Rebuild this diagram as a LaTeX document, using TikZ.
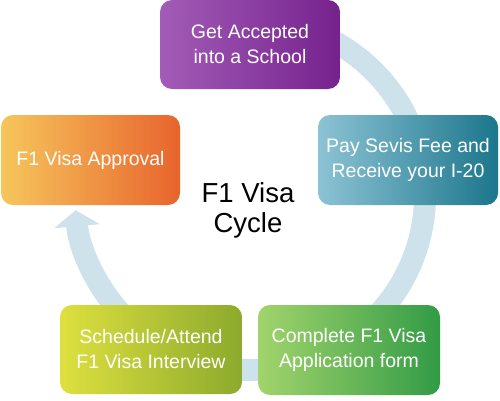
\documentclass[tikz,border=0pt]{standalone}
\usepackage{fontspec}
\setmainfont{Liberation Sans}
\usetikzlibrary{arrows.meta}
\definecolor{bandc}{RGB}{205,226,235}
\definecolor{purL}{RGB}{162,92,182}
\definecolor{purR}{RGB}{118,34,142}
\definecolor{teaL}{RGB}{140,195,212}
\definecolor{teaR}{RGB}{28,118,140}
\definecolor{oraL}{RGB}{246,198,92}
\definecolor{oraR}{RGB}{232,100,45}
\definecolor{yelL}{RGB}{222,224,62}
\definecolor{yelR}{RGB}{140,170,45}
\definecolor{griL}{RGB}{162,212,108}
\definecolor{griR}{RGB}{50,155,70}
\tikzset{
  stepbox/.style={rounded corners=12pt, minimum width=180pt, minimum height=89pt,
    text=white, align=center, inner sep=0pt,
    font=\fontsize{19.5pt}{25pt}\selectfont},
  band/.style={draw=bandc, line width=22pt}
}
\begin{document}
\begin{tikzpicture}[x=1pt,y=1pt]
\useasboundingbox (0,0) rectangle (500,400);
% cycle band
\draw[band, -{Triangle[width=45pt,length=16pt]}]
  ({250+175*cos(100)},{205+175*sin(100)}) arc[start angle=100, end angle=-175, radius=175];
% boxes
\node[stepbox, left color=purL, right color=purR] (accept) at (250,355.5) {Get Accepted\\into a School};
\node[stepbox, left color=teaL, right color=teaR, minimum height=90pt] (sevis) at (408,240) {Pay Sevis Fee and\\Receive your I-20};
\node[stepbox, left color=griL, right color=griR, minimum width=182pt, minimum height=90pt] (form) at (349,50) {Complete F1 Visa\\Application form};
\node[stepbox, left color=yelL, right color=yelR, minimum width=182pt] (interview) at (151,50.5) {Schedule/Attend\\F1 Visa Interview};
\node[stepbox, left color=oraL, right color=oraR, minimum width=179pt, minimum height=90pt] (approval) at (90.5,240) {F1 Visa Approval};
% center title
\node[align=center, font=\fontsize{27.5pt}{30pt}\selectfont, inner sep=0pt] (title) at (248,190) {F1 Visa\\Cycle};
\end{tikzpicture}
\end{document}
